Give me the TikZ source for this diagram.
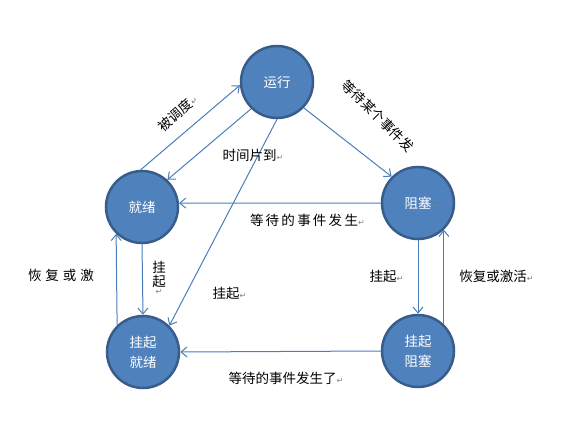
\documentclass[tikz,border=0pt]{standalone}
\usepackage{fontspec}
\newfontfamily\cjk{Noto Sans CJK SC}
\newfontfamily\symf{DejaVu Sans}
\usetikzlibrary{arrows.meta}
\definecolor{nodefill}{RGB}{79,129,189}
\definecolor{nodeedge}{RGB}{56,93,138}
\definecolor{linkc}{RGB}{74,126,187}
\newcommand{\pmarkc}{\textcolor{gray}{\symf\fontsize{8}{8}\selectfont ↵}}
\newcommand{\pmark}{\rlap{\pmarkc}}
\newcommand{\gapA}{\kern2.25pt}
\newcommand{\gapB}{\kern4pt}
\begin{document}
\begin{tikzpicture}[x=1pt,y=-1pt,
  state/.style={circle, fill=nodefill, draw=nodeedge, line width=2.5pt,
    minimum size=72pt, inner sep=0pt, text=white, align=center,
    font=\cjk\fontsize{13.5}{20}\selectfont},
  link/.style={draw=linkc, line width=1pt, -{Straight Barb[length=6pt,width=10pt]}},
  lbl/.style={font=\cjk\fontsize{13.5}{14}\selectfont, inner sep=0pt}]
\useasboundingbox (0,0) rectangle (576,433);
% states
\node[state] (yx) at (277,82) {运行\pmark};
\node[state] (jx) at (142,207) {就绪\pmark};
\node[state] (zs) at (418,203) {阻塞\pmark};
\node[state] (gj) at (143,352) {挂起\\就绪\pmark};
\node[state] (gz) at (418,351) {挂起\\阻塞\pmark};
% connectors
\draw[link] (jx.92) -- (yx.185);
\draw[link] (yx.226) -- (jx.47);
\draw[link] (yx.270) -- (gj.45);
\draw[link] (yx.316) -- (zs.135);
\draw[link] (zs.180) -- (jx.6);
\draw[link] (jx.270) -- (gj.90);
\draw[link] (gj.134) -- (jx.226);
\draw[link] (zs.270) -- (gz.90);
\draw[link] (gz.46) -- (zs.314);
\draw[link] (gz.180) -- (gj.0);
% labels
\node[lbl, rotate=41] (l1) at (175,115) {被调度\pmark};
\node[lbl] (l2) at (249.5,155) {时间片到\pmark};
\node[lbl, rotate=-45] (l3) at (378,116) {等待某个事件发};
\node[lbl] (l4) at (304,220) {等\gapA 待\gapA 的\gapA 事\gapA 件\gapA 发\gapA 生\pmark};
\node[lbl, align=center, anchor=north] (l5) at (159,261) {挂\\起\\[-6pt]\pmarkc};
\node[lbl] (l6) at (226,293) {挂起\pmark};
\node[lbl] (l7) at (61,275) {恢\gapB 复\gapB 或\gapB 激};
\node[lbl] (l8) at (383,276) {挂起\pmark};
\node[lbl] (l9) at (493,276) {恢复或激活\pmark};
\node[lbl] (l10) at (282.5,378) {等待的事件发生了\pmark};
\end{tikzpicture}
\end{document}
